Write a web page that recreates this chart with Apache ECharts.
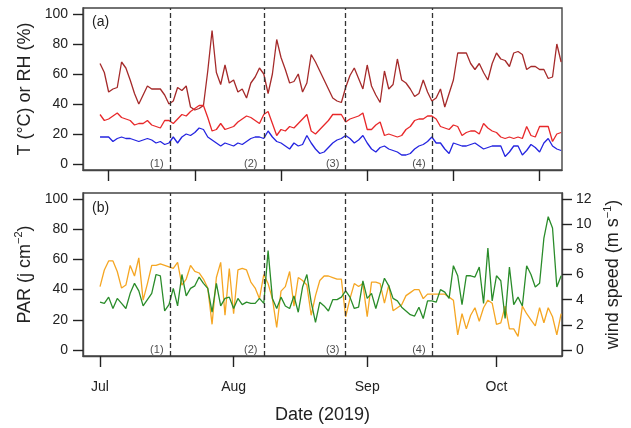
<!DOCTYPE html>
<html>
<head>
<meta charset="utf-8">
<script src="https://cdn.jsdelivr.net/npm/echarts@6/dist/echarts.min.js"></script>
<style>
html,body{margin:0;padding:0;background:#fff;}
#c{width:631px;height:428px;}
</style>
</head>
<body>
<div id="c"></div>
<script>
// Day index 0 = 1 July 2019
const dayCount = 108;
const days = Array.from({length: dayCount}, (_, i) => i);
const monthTicks = [0, 31, 62, 92];
const monthLabels = ['Jul', 'Aug', 'Sep', 'Oct'];
const topTicks = [2, 22, 42, 62, 82, 102];
const leftTicks = [0, 20, 40, 60, 80, 100];
const windTicks = [0, 2, 4, 6, 8, 10, 12];
const periodDays = [16.2, 38, 57, 77];
const periodLabels = ['(1)', '(2)', '(3)', '(4)'];

// panel (a)
const rh = [67,61,48,50,51,68,64,56,47,40,46,52,50,50,50,46,40,42,51,49,52,38,36,37,39,62,89,61,53,66,54,56,48,50,44,54,58,64,60,47,60,83,71,63,54,55,60,48,54,73,68,62,56,50,44,42,41,51,59,64,57,50,66,52,46,41,62,50,53,70,56,54,50,45,47,56,48,42,44,50,38,47,56,74,74,74,67,63,67,61,56,67,74,70,69,65,74,75,73,63,65,65,63,63,57,58,80,68];
const tRed = [33,29,30,32,34,31,30,29,26,27,27,29,26,25,24,29,29,27,30,33,32,35,37,39,39,31,22,23,27,23,24,25,28,30,32,31,29,27,33,35,27,19,23,22,25,24,27,30,33,22,20,23,26,29,33,33,33,28,30,31,32,34,23,23,26,28,19,20,19,18,19,23,25,29,30,30,32,32,30,25,24,23,26,25,19,21,22,22,20,27,24,22,21,18,17,18,17,18,17,25,19,18,25,25,25,15,20,21];
const tBlue = [18,18,18,15,17,18,17,17,16,15,16,17,16,14,15,13,14,18,14,18,20,19,21,24,23,18,16,14,12,14,13,12,14,13,15,17,18,18,17,22,18,15,14,12,10,14,12,13,19,14,10,7,8,11,14,16,17,19,17,14,16,19,14,10,8,11,12,10,9,8,6,6,7,10,12,13,15,18,14,14,10,7,14,13,12,12,13,14,12,10,11,12,12,12,5,8,12,12,6,9,13,11,8,14,17,12,10,9];
// panel (b)
const par = [42,53,59,59,52,41,43,56,49,61,33,44,56,56,57,56,55,54,58,43,47,56,52,51,47,41,17,48,58,23,54,24,53,54,53,45,41,34,50,44,34,15,39,42,52,29,48,46,43,23,36,46,49,49,48,47,47,22,34,44,42,44,22,45,45,44,31,43,26,28,30,36,38,40,40,34,37,37,37,37,37,35,33,10,24,14,23,28,19,28,33,31,17,18,29,14,14,9,29,24,20,16,28,18,28,22,10,24];
const wind = [3.8,3.7,4.2,3.3,4.1,3.7,3.3,4.5,5.3,4.7,3.5,4.0,4.5,6.0,5.9,3.1,3.6,4.9,3.5,6.0,4.3,4.9,5.1,5.8,5.3,4.9,3.0,5.3,3.5,4.1,4.2,3.3,4.1,3.6,3.8,3.7,3.7,4.1,3.7,7.9,4.1,3.3,4.2,3.5,3.3,4.3,3.0,5.0,6.0,3.8,2.2,3.8,3.5,3.1,4.0,4.0,4.2,4.7,4.2,3.3,3.4,5.5,4.1,4.5,3.3,4.5,5.7,5.1,4.1,3.9,3.4,3.1,2.8,2.7,3.4,2.5,3.9,3.9,3.8,4.8,4.6,4.1,6.7,5.9,3.6,5.9,5.9,5.8,6.6,3.7,8.1,3.9,5.9,5.5,2.5,6.6,3.6,4.2,3.5,6.7,6.0,5.0,5.3,8.9,10.6,9.7,5.0,5.9];

const pair = arr => days.map((d, i) => [d, arr[i]]);
const FONT = 'Liberation Sans, Arial, sans-serif';

const dashMark = {
  silent: true,
  symbol: ['none', 'none'],
  label: {show: false},
  lineStyle: {type: [5, 3], color: '#333', width: 1.3},
  data: periodDays.map(d => ({xAxis: d}))
};

function line(name, data, color, xi, yi, withMark) {
  const s = {
    name, type: 'line', xAxisIndex: xi, yAxisIndex: yi,
    data: pair(data), showSymbol: false, symbol: 'none',
    lineStyle: {color, width: 1.3}, itemStyle: {color},
    animation: false, z: 3
  };
  if (withMark) s.markLine = dashMark;
  return s;
}

function periodSeries(xi, yi) {
  return {
    type: 'scatter', xAxisIndex: xi, yAxisIndex: yi,
    symbolSize: 0, silent: true, animation: false,
    data: periodDays.map((d, i) => ({value: [d, 0], name: periodLabels[i]})),
    label: {show: true, formatter: p => p.name, position: 'inside', offset: [-13, 0],
      color: '#222', fontSize: 11, fontFamily: FONT}
  };
}

function axLine() { return {show: true, onZero: false, lineStyle: {color: '#444', width: 1.4}}; }
function ticks(vals, len) { return {show: true, length: len, lineStyle: {color: '#222', width: 1.4}, customValues: vals}; }
function labels(vals, margin) { return {customValues: vals, fontSize: 14, color: '#222', fontFamily: FONT, margin}; }
const supRich = {
  a: {fontSize: 18, color: '#222', fontFamily: FONT, lineHeight: 22},
  s: {fontSize: 11, color: '#222', fontFamily: FONT, verticalAlign: 'top', lineHeight: 22, padding: [0, 0, 8, 0]}
};
function leftY(gi, name, rich) {
  return {type: 'value', gridIndex: gi, min: -4, max: 104, splitLine: {show: false},
    axisLine: axLine(), axisTick: ticks(leftTicks, 10), axisLabel: labels(leftTicks, 15),
    name, nameLocation: 'middle', nameRotate: 90, nameGap: 47,
    nameTextStyle: rich ? {fontSize: 18, color: '#222', fontFamily: FONT, rich: supRich}
                        : {fontSize: 18, color: '#222', fontFamily: FONT}};
}

const chart = echarts.init(document.getElementById('c'), null, {renderer: 'canvas'});
chart.setOption({
  backgroundColor: '#fff',
  animation: false,
  grid: [
    {left: 83, right: 69, top: 8, height: 162, show: true, borderColor: '#444', borderWidth: 1.4, backgroundColor: 'transparent'},
    {left: 83, right: 69, top: 193, height: 163, show: true, borderColor: '#444', borderWidth: 1.4, backgroundColor: 'transparent'}
  ],
  xAxis: [
    {type: 'value', gridIndex: 0, min: -3.95, max: 107.2, splitLine: {show: false},
      axisLine: axLine(), axisTick: ticks(topTicks, 11), axisLabel: {show: false}},
    {type: 'value', gridIndex: 1, min: -3.95, max: 107.2, splitLine: {show: false},
      axisLine: axLine(), axisTick: ticks(monthTicks, 11),
      axisLabel: Object.assign(labels(monthTicks, 24),
        {formatter: v => monthLabels[monthTicks.indexOf(Math.round(v))] || ''}),
      name: 'Date (2019)', nameLocation: 'middle', nameGap: 50,
      nameTextStyle: {fontSize: 18, color: '#222', fontFamily: FONT}}
  ],
  yAxis: [
    leftY(0, 'T (°C) or RH (%)', false),
    leftY(1, '{a|PAR (j cm}{s|−2}{a|)}', true),
    {type: 'value', gridIndex: 1, position: 'right', min: -0.48, max: 12.48,
      splitLine: {show: false}, axisLine: axLine(),
      axisTick: ticks(windTicks, 10), axisLabel: labels(windTicks, 14),
      name: '{a|wind speed (m s}{s|−1}{a|)}', nameLocation: 'middle', nameRotate: 90, nameGap: 39,
      nameTextStyle: {fontSize: 18, color: '#222', fontFamily: FONT, rich: supRich}}
  ],
  graphic: [
    {type: 'text', left: 92, top: 15, style: {text: '(a)', fontSize: 14, fill: '#222', fontFamily: FONT}},
    {type: 'text', left: 92, top: 201, style: {text: '(b)', fontSize: 14, fill: '#222', fontFamily: FONT}}
  ],
  series: [
    line('RH', rh, '#a52a2a', 0, 0, true),
    line('T red', tRed, '#e8282a', 0, 0, false),
    line('T blue', tBlue, '#2424e0', 0, 0, false),
    periodSeries(0, 0),
    line('PAR', par, '#f5a623', 1, 1, true),
    line('Wind', wind, '#2a8c2a', 1, 2, false),
    periodSeries(1, 1)
  ]
});
</script>
</body>
</html>
